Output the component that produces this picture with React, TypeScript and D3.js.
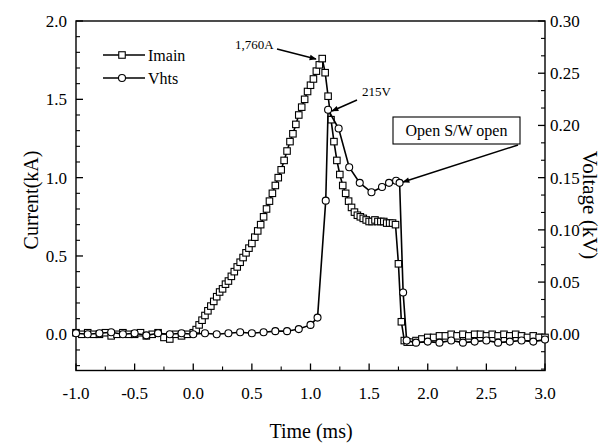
import React from 'react';
import * as d3 from 'd3';

const W = 614;
const H = 444;
const FONT = '"Liberation Serif", "DejaVu Serif", serif';

// Imain (kA) — before the pulse, 0.05 ms samples
const imainPreTime = d3.range(20).map((i) => -1 + i * 0.05);
const imainPre = [0.01, 0.0, 0.01, 0.0, 0.0, 0.01, -0.01, 0.0, 0.01, 0.0, 0.0, 0.01, -0.01, 0.0, 0.01, -0.02, -0.03, 0.0, -0.01, 0.0];

// Imain during the pulse, 0.025 ms samples (0 .. 1.825 ms)
const imainPulseTime = d3.range(74).map((i) => i * 0.025);
const imainPulse = [
  0.01, 0.03, 0.06, 0.09, 0.12, 0.15, 0.18, 0.21, 0.24, 0.27,
  0.29, 0.32, 0.34, 0.37, 0.4, 0.43, 0.46, 0.49, 0.52, 0.55,
  0.58, 0.62, 0.66, 0.7, 0.75, 0.8, 0.85, 0.9, 0.95, 1.0,
  1.05, 1.11, 1.17, 1.23, 1.28, 1.34, 1.4, 1.45, 1.5, 1.55,
  1.59, 1.63, 1.68, 1.72, 1.76, 1.67, 1.52, 1.37, 1.23, 1.11,
  1.02, 0.95, 0.9, 0.85, 0.81, 0.78, 0.76, 0.75, 0.74, 0.73,
  0.72, 0.72, 0.73, 0.72, 0.72, 0.72, 0.71, 0.71, 0.71, 0.7,
  0.45, 0.08, -0.04, -0.05,
];

// Imain after the switch opens, 0.05 ms samples (1.85 .. 3.0 ms)
const imainPostTime = d3.range(24).map((i) => 1.85 + i * 0.05);
const imainPost = [-0.05, -0.04, -0.03, -0.02, -0.02, -0.01, -0.01, 0.0, -0.01, 0.0, -0.01, 0.0, 0.0, -0.01, 0.0, -0.01, 0.0, -0.01, 0.0, -0.01, -0.02, -0.01, -0.02, -0.02];

// Vhts (kV)
const vhtsTime = [
  -1.0, -0.9, -0.8, -0.7, -0.6, -0.5, -0.4, -0.3, -0.2, -0.1, 0.0,
  0.1, 0.2, 0.3, 0.4, 0.5, 0.6, 0.7, 0.8, 0.9, 1.0,
  1.06, 1.13, 1.15, 1.24, 1.33, 1.42, 1.52, 1.61, 1.67, 1.73, 1.76, 1.79, 1.82,
  1.9, 2.0, 2.1, 2.2, 2.3, 2.4, 2.5, 2.6, 2.7, 2.8, 2.9, 3.0,
];
const vhts = [
  0.001, 0.0, 0.001, 0.002, 0.0, 0.001, -0.001, 0.001, 0.0, 0.001, 0.0,
  0.001, 0.0, 0.001, 0.002, 0.001, 0.002, 0.003, 0.003, 0.005, 0.009,
  0.016, 0.128, 0.215, 0.197, 0.16, 0.145, 0.136, 0.141, 0.145, 0.147, 0.145, 0.04, -0.006,
  -0.008, -0.007, -0.008, -0.006, -0.008, -0.007, -0.006, -0.008, -0.007, -0.006, -0.007, -0.005,
];

const xTicks = [-1.0, -0.5, 0.0, 0.5, 1.0, 1.5, 2.0, 2.5, 3.0];
const leftTicks = [0.0, 0.5, 1.0, 1.5, 2.0];
const rightTicks = [0.0, 0.05, 0.1, 0.15, 0.2, 0.25, 0.3];

const L = 76, R = 545, T = 21, B = 370.5;

export default function App() {
  const x = d3.scaleLinear().domain([-1, 3]).range([L, R]);
  const yL = d3.scaleLinear().domain([0, 2]).range([334.3, T]);
  const yR = d3.scaleLinear().domain([0, 0.3]).range([334.3, T]);

  const imain = [
    ...imainPreTime.map((t, i) => [t, imainPre[i]]),
    ...imainPulseTime.map((t, i) => [t, imainPulse[i]]),
    ...imainPostTime.map((t, i) => [t, imainPost[i]]),
  ] as [number, number][];
  const volt = vhtsTime.map((t, i) => [t, vhts[i]]) as [number, number][];

  const lineI = d3.line<[number, number]>().x((d) => x(d[0])).y((d) => yL(d[1]));
  const lineV = d3.line<[number, number]>().x((d) => x(d[0])).y((d) => yR(d[1]));

  const xMinor = d3.range(-0.75, 3, 0.5);
  const lMinor = d3.range(-2, 20).map((i) => i / 10).filter((v) => Math.abs((v * 2) % 1) > 1e-6 && yL(v) <= B);
  const rMinor = d3.range(-2, 19).filter((i) => i % 3 !== 0).map((i) => (i * 0.05) / 3).filter((v) => yR(v) <= B);

  const sq = 6.5;
  return (
    <svg width={W} height={H} style={{ position: 'absolute', left: 0, top: 0, background: '#fff' }} fontFamily={FONT}>
      <defs>
        <marker id="ah" viewBox="0 0 10 10" refX="9" refY="5" markerWidth="10" markerHeight="7" orient="auto" markerUnits="userSpaceOnUse">
          <path d="M0,1 L10,5 L0,9 z" fill="#000" />
        </marker>
      </defs>

      {/* frame */}
      <rect x={L} y={T} width={R - L} height={B - T} fill="none" stroke="#000" strokeWidth={1.4} />

      {/* x ticks */}
      {xTicks.map((v) => (
        <g key={'x' + v}>
          <line x1={x(v)} x2={x(v)} y1={B} y2={B - 7} stroke="#000" strokeWidth={1.3} />
          <text x={x(v)} y={399} textAnchor="middle" fontSize={17}>{v.toFixed(1)}</text>
        </g>
      ))}
      {xMinor.map((v) => (
        <line key={'xm' + v} x1={x(v)} x2={x(v)} y1={B} y2={B - 4} stroke="#000" strokeWidth={1.1} />
      ))}

      {/* left ticks */}
      {leftTicks.map((v) => (
        <g key={'l' + v}>
          <line x1={L} x2={L + 7} y1={yL(v)} y2={yL(v)} stroke="#000" strokeWidth={1.3} />
          <text x={67} y={yL(v)} dy="0.35em" textAnchor="end" fontSize={17}>{v.toFixed(1)}</text>
        </g>
      ))}
      {lMinor.map((v) => (
        <line key={'lm' + v} x1={L} x2={L + 4} y1={yL(v)} y2={yL(v)} stroke="#000" strokeWidth={1.1} />
      ))}

      {/* right ticks */}
      {rightTicks.map((v) => (
        <g key={'r' + v}>
          <line x1={R} x2={R - 7} y1={yR(v)} y2={yR(v)} stroke="#000" strokeWidth={1.3} />
          <text x={550} y={yR(v)} dy="0.35em" textAnchor="start" fontSize={17}>{v.toFixed(2)}</text>
        </g>
      ))}
      {rMinor.map((v) => (
        <line key={'rm' + v} x1={R} x2={R - 4} y1={yR(v)} y2={yR(v)} stroke="#000" strokeWidth={1.1} />
      ))}

      {/* axis titles */}
      <text x={311} y={438} textAnchor="middle" fontSize={20}>Time (ms)</text>
      <text transform={`translate(38,200) rotate(-90)`} textAnchor="middle" fontSize={20}>Current(kA)</text>
      <text transform={`translate(583,205) rotate(90)`} textAnchor="middle" fontSize={21}>Voltage (kV)</text>

      {/* Imain */}
      <path d={lineI(imain) || ''} fill="none" stroke="#000" strokeWidth={1.6} />
      {imain.map((d, i) => (
        <rect key={'s' + i} x={x(d[0]) - sq / 2} y={yL(d[1]) - sq / 2} width={sq} height={sq} fill="#fff" stroke="#000" strokeWidth={1.1} />
      ))}

      {/* Vhts */}
      <path d={lineV(volt) || ''} fill="none" stroke="#000" strokeWidth={1.6} />
      {volt.map((d, i) => (
        <circle key={'c' + i} cx={x(d[0])} cy={yR(d[1])} r={3.5} fill="#fff" stroke="#000" strokeWidth={1.1} />
      ))}

      {/* legend */}
      <line x1={103} x2={145} y1={55} y2={55} stroke="#000" strokeWidth={1.5} />
      <rect x={122 - sq / 2} y={55 - sq / 2} width={sq} height={sq} fill="#fff" stroke="#000" strokeWidth={1.1} />
      <text x={148} y={55} dy="0.35em" fontSize={16}>Imain</text>
      <line x1={103} x2={145} y1={78} y2={78} stroke="#000" strokeWidth={1.5} />
      <circle cx={122} cy={78} r={3.5} fill="#fff" stroke="#000" strokeWidth={1.1} />
      <text x={148} y={78} dy="0.35em" fontSize={16}>Vhts</text>

      {/* annotations */}
      <text x={235} y={49} fontSize={13}>1,760A</text>
      <line x1={277} y1={49} x2={316} y2={59} stroke="#000" strokeWidth={1.5} markerEnd="url(#ah)" />
      <text x={362} y={96} fontSize={13}>215V</text>
      <line x1={357} y1={100} x2={332} y2={111} stroke="#000" strokeWidth={1.5} markerEnd="url(#ah)" />
      <rect x={393} y={117} width={127} height={27} fill="#fff" stroke="#000" strokeWidth={1.1} />
      <text x={456.5} y={130.5} dy="0.35em" textAnchor="middle" fontSize={16}>Open S/W open</text>
      <line x1={518} y1={145} x2={403} y2={182} stroke="#000" strokeWidth={1.5} markerEnd="url(#ah)" />
    </svg>
  );
}
